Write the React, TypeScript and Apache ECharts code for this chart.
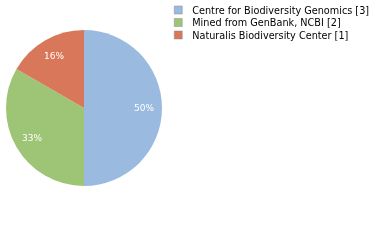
import React, { useEffect, useRef } from "react";
import * as echarts from "echarts";

const categories = [
  "Centre for Biodiversity Genomics [3]",
  "Mined from GenBank, NCBI [2]",
  "Naturalis Biodiversity Center [1]",
];
const values = [3, 2, 1];
const colors = ["#9bbae0", "#9ec476", "#d9775b"];

export default function App() {
  const ref = useRef<HTMLDivElement>(null);
  useEffect(() => {
    const chart = echarts.init(ref.current!, null, { renderer: "svg" });
    const data = categories.map((name, i) => ({
      name,
      value: values[i],
      itemStyle: { color: colors[i] },
    }));
    chart.setOption({
      animation: false,
      textStyle: { fontFamily: "DejaVu Sans" },
      legend: {
        orient: "vertical",
        left: 174,
        top: 4.5,
        padding: 0,
        itemWidth: 8,
        itemHeight: 8,
        itemGap: 1.5,
        icon: "rect",
        data: categories,
        itemStyle: { borderColor: "#8a8a8a", borderWidth: 0.5 },
        textStyle: {
          fontFamily: "DejaVu Sans",
          fontSize: 9.7,
          color: "#000",
          padding: [0, 0, 0, 5],
          lineHeight: 11,
        },
      },
      series: [
        {
          type: "pie",
          center: [84, 108],
          radius: [0, 78],
          startAngle: 90,
          clockwise: true,
          label: { show: false },
          labelLine: { show: false },
          emphasis: { disabled: true },
          data,
        },
        {
          type: "pie",
          center: [84, 108],
          radius: [36, 78],
          startAngle: 90,
          clockwise: true,
          silent: true,
          emphasis: { disabled: true },
          itemStyle: { color: "transparent" },
          label: {
            show: true,
            position: "inside",
            color: "#fff",
            fontFamily: "DejaVu Sans",
            fontSize: 9,
            formatter: (p: any) => Math.floor(p.percent) + "%",
          },
          labelLine: { show: false },
          data: categories.map((name, i) => ({
            name,
            value: values[i],
            itemStyle: { color: "transparent" },
          })),
        },
      ],
    });
    return () => chart.dispose();
  }, []);
  return (
    <div style={{ position: "fixed", left: 0, top: 0 }}>
      <div ref={ref} style={{ width: 380, height: 240 }} />
    </div>
  );
}
